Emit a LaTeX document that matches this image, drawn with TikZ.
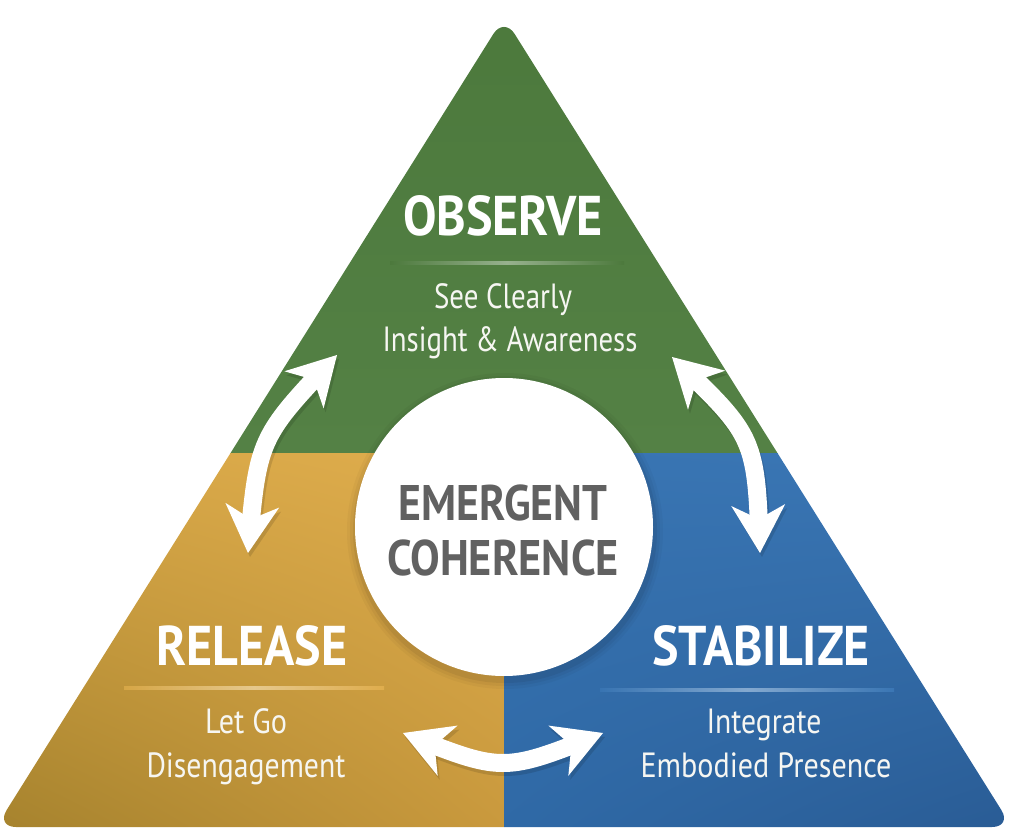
\documentclass[tikz,border=0pt]{standalone}
\usepackage{fontspec}
\usepackage{graphicx}
\setmainfont{PT Sans}
\usetikzlibrary{arrows.meta,bending,shadings}
\definecolor{cgreenT}{HTML}{4C793C}
\definecolor{cgreenB}{HTML}{548145}
\definecolor{cyUL}{HTML}{D6A646}
\definecolor{cyUR}{HTML}{DFAD4D}
\definecolor{cyLL}{HTML}{A5822D}
\definecolor{cyLR}{HTML}{C9993D}
\definecolor{cbUL}{HTML}{3874B2}
\definecolor{cbUR}{HTML}{3A76B4}
\definecolor{cbLL}{HTML}{2F69A6}
\definecolor{cbLR}{HTML}{295B94}
\definecolor{cgray}{HTML}{616161}
\definecolor{ctext}{HTML}{F6F6F2}
\newcommand\fitto[2]{\setbox0=\hbox{#2}\pgfmathsetmacro\fitfac{#1/\the\wd0}\scalebox{\fitfac}[1]{\box0}}
\tikzset{
  headtext/.style={anchor=base, text=white, font=\bfseries\fontsize{56}{60}\selectfont, inner sep=0pt},
  subtext/.style={anchor=base, text=ctext, font=\fontsize{35}{40}\selectfont, inner sep=0pt},
  coretext/.style={anchor=base, text=cgray, font=\bfseries\fontsize{50}{54}\selectfont, inner sep=0pt},
  arrowtip/.tip={Stealth[length=48pt,width=54pt,inset=14pt,line width=0pt]},
  bigarrow/.style={draw=white, line width=18pt, arrowtip-arrowtip},
  shadowarrow/.style={draw=black, opacity=0.12, line width=18pt, arrowtip-arrowtip},
}
\begin{document}
\begin{tikzpicture}[x=1pt,y=-1pt]
\useasboundingbox (0,0) rectangle (1021,835);
% triangle
\begin{scope}
\clip[rounded corners=20pt] (504,17) -- (1012,827) -- (-4,827) -- cycle;
\shade[top color=cgreenT, bottom color=cgreenB] (-5,0) rectangle (1025,453);
\shade[upper left=cyUL, upper right=cyUR, lower left=cyLL, lower right=cyLR] (-5,453) rectangle (504,835);
\shade[upper left=cbUL, upper right=cbUR, lower left=cbLL, lower right=cbLR] (504,453) rectangle (1025,835);
% glow separators
\shade[left color=cgreenT, right color=cgreenT, middle color=white!42!cgreenT] (390,261.5) rectangle (624,264.5);
\shade[left color=cyUL, right color=cyUR, middle color=white!38!cyUL] (124,686.5) rectangle (384,689.5);
\shade[left color=cbUL, right color=cbUR, middle color=white!38!cbUL] (600,688.5) rectangle (894,691.5);
\end{scope}
% central circle with soft shadow
\foreach \r/\o in {158/0.03,155/0.04,152/0.06}
  \fill[black,opacity=\o] (505,531) circle[radius=\r];
\node[circle, fill=white, minimum size=298pt, inner sep=0pt] (core) at (504,527) {};
\node[coretext] (em) at (503,520) {\fitto{209}{EMERGENT}};
\node[coretext] (coh) at (503,575) {\fitto{232}{COHERENCE}};
% headings
\node[headtext] (obs) at (503,235) {\fitto{200}{OBSERVE}};
\node[subtext] (obs1) at (503,308) {\fitto{138}{See Clearly}};
\node[subtext] (obs2) at (510,351) {\fitto{255}{Insight \& Awareness}};
\node[headtext] (rel) at (252,665) {\fitto{191}{RELEASE}};
\node[subtext] (rel1) at (246,733) {\fitto{82}{Let Go}};
\node[subtext] (rel2) at (246,777) {\fitto{199}{Disengagement}};
\node[headtext] (sta) at (761,665) {\fitto{218}{STABILIZE}};
\node[subtext] (sta1) at (764,733) {\fitto{115}{Integrate}};
\node[subtext] (sta2) at (766,777) {\fitto{251}{Embodied Presence}};
% arrow end points
\coordinate (la) at (248,553);
\coordinate (lb) at (337,355);
\coordinate (lc) at (258,438);
\coordinate (ra) at (672,357);
\coordinate (rb) at (760,553);
\coordinate (rc) at (756,437);
\coordinate (ba) at (403,733);
\coordinate (bb) at (603,733);
\coordinate (bc) at (503,773);
% shadows
\draw[shadowarrow] ([xshift=2pt,yshift=-4pt]la) .. controls ([xshift=2pt,yshift=-4pt]lc) .. ([xshift=2pt,yshift=-4pt]lb);
\draw[shadowarrow] ([xshift=2pt,yshift=-4pt]ra) .. controls ([xshift=2pt,yshift=-4pt]rc) .. ([xshift=2pt,yshift=-4pt]rb);
\draw[shadowarrow] ([xshift=2pt,yshift=-4pt]ba) .. controls ([xshift=2pt,yshift=-4pt]bc) .. ([xshift=2pt,yshift=-4pt]bb);
% arrows
\draw[bigarrow] (la) .. controls (lc) .. (lb);
\draw[bigarrow] (ra) .. controls (rc) .. (rb);
\draw[bigarrow] (ba) .. controls (bc) .. (bb);
\end{tikzpicture}
\end{document}
